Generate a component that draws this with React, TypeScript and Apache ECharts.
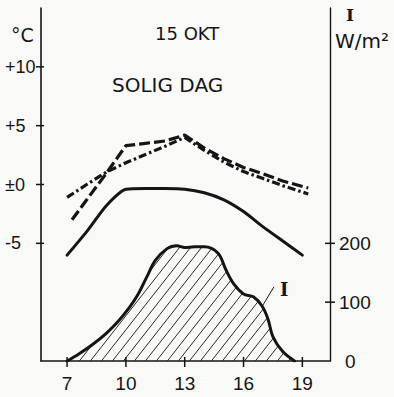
import React, { useEffect, useRef } from 'react';
import * as echarts from 'echarts';

// Axis ticks / labels
const hourTicks = [7, 10, 13, 16, 19];
const tempTicks = [-5, 0, 5, 10];
const tempTickLabels = ['-5', '±0', '+5', '+10'];
const irrTicks = [100, 200];
const irrLabelValues = [0, 100, 200];

// Solid temperature curve
const solidHours = [7, 8, 9, 10, 11, 12, 13, 14, 15, 16, 17, 18, 19];
const solidTemp = [-6.0, -4.0, -1.8, -0.4, -0.35, -0.35, -0.4, -0.7, -1.3, -2.3, -3.6, -4.8, -6.0];

// Long-dash temperature curve
const dashedHours = [7.25, 8, 9, 10, 11, 12, 13, 14, 15, 16, 17, 18, 19.3];
const dashedTemp = [-3.0, -1.3, 0.95, 3.3, 3.5, 3.7, 4.2, 3.1, 2.2, 1.45, 0.9, 0.3, -0.3];

// Dash-dot temperature curve
const dashDotHours = [7, 8, 9, 10, 11, 12, 13, 14, 15, 16, 17, 18, 19.3];
const dashDotTemp = [-1.1, 0.0, 1.05, 1.85, 2.55, 3.25, 4.0, 2.9, 1.9, 1.1, 0.5, -0.1, -0.8];

// Irradiance I (W/m2)
const irrHours = [7, 7.6, 8.3, 9.0, 9.6, 10.2, 10.6, 11.1, 11.5, 12.1, 12.6, 13.0, 13.5, 14.0, 14.7, 15.1, 15.5, 16.0, 16.5, 16.95, 17.25, 17.5, 18.0, 18.6];
const irrValues = [0, 12, 28, 47, 67, 92, 112, 145, 171, 191, 196, 193, 194, 194, 183, 155, 131, 114, 109, 93, 71, 41, 16, 0];

// Leader line and label for "I"
const leaderStart = [16.95, 93];
const leaderEnd = [17.55, 126];
const labelAt = [18.07, 122];

// Axis ranges
const xMin = 5.67;
const xMax = 20.41;
const tempMin = -15;
const tempMax = 15;
const irrMin = 0;
const irrMax = 600;

const zip = (xs: number[], ys: number[]) => xs.map((x, i) => [x, ys[i]]);

const INK = '#151515';
const tickFont = "'Liberation Sans', Arial, sans-serif";
const textFont = "'DejaVu Sans', 'Liberation Sans', sans-serif";
const serifFont = "'DejaVu Serif', 'Liberation Serif', serif";

// Crossing tick marks drawn through the axis scales
const tickSeries = (
  data: number[][], yAxisIndex: number, dir: 'x' | 'y', before: number, after: number,
) => ({
  type: 'custom',
  xAxisIndex: 0,
  yAxisIndex,
  clip: false,
  silent: true,
  z: 5,
  data,
  renderItem: (_params: any, api: any) => {
    const p = api.coord([api.value(0), api.value(1)]);
    const shape = dir === 'x'
      ? { x1: p[0], y1: p[1] - before, x2: p[0], y2: p[1] + after }
      : { x1: p[0] - before, y1: p[1], x2: p[0] + after, y2: p[1] };
    return { type: 'line', shape, style: { stroke: INK, lineWidth: 1.5 } };
  },
});

export default function App() {
  const ref = useRef<HTMLDivElement>(null);

  useEffect(() => {
    if (!ref.current) return;
    const chart = echarts.init(ref.current, undefined, { renderer: 'svg' });

    const c = document.createElement('canvas');
    const W = 11, H = 14;
    c.width = W;
    c.height = H;
    const ctx = c.getContext('2d')!;
    ctx.strokeStyle = '#2a2a2a';
    ctx.lineWidth = 1;
    for (const dx of [-W, 0, W]) {
      ctx.beginPath();
      ctx.moveTo(dx, H);
      ctx.lineTo(dx + W, 0);
      ctx.stroke();
    }

    const option: any = {
      animation: false,
      backgroundColor: '#f9f9f7',
      grid: { left: 41, right: 64, top: 8, bottom: 36, containLabel: false },
      xAxis: [
        {
          type: 'value', min: xMin, max: xMax, position: 'bottom',
          axisLine: { show: true, onZero: false, lineStyle: { color: INK, width: 1.6 } },
          axisTick: { show: false },
          axisLabel: { customValues: hourTicks, color: INK, fontFamily: tickFont, fontSize: 19, margin: 13 },
          splitLine: { show: false },
        },
      ],
      yAxis: [
        {
          type: 'value', min: tempMin, max: tempMax, position: 'left',
          axisLine: { show: true, onZero: false, lineStyle: { color: INK, width: 1.6 } },
          axisTick: { show: false },
          axisLabel: {
            customValues: tempTicks, color: INK, fontFamily: tickFont, fontSize: 18, align: 'left', margin: 36,
            formatter: (v: number) => tempTickLabels[tempTicks.indexOf(v)] ?? '',
          },
          splitLine: { show: false },
        },
        {
          type: 'value', min: irrMin, max: irrMax, position: 'right',
          axisLine: { show: true, onZero: false, lineStyle: { color: INK, width: 1.4 } },
          axisTick: { show: false },
          axisLabel: {
            customValues: irrLabelValues, color: INK, fontFamily: tickFont, fontSize: 19, margin: 9,
            formatter: (v: number) => (v === 0 ? '{z|0}' : String(v)),
            rich: { z: { padding: [0, 0, 0, 6], fontFamily: tickFont, fontSize: 19, color: INK } },
          },
          splitLine: { show: false },
        },
      ],
      series: [
        {
          type: 'line', name: 'solid', xAxisIndex: 0, yAxisIndex: 0,
          data: zip(solidHours, solidTemp), symbol: 'none', smooth: 0.2,
          lineStyle: { color: INK, width: 3, cap: 'round', join: 'round' },
        },
        {
          type: 'line', name: 'dashed', xAxisIndex: 0, yAxisIndex: 0,
          data: zip(dashedHours, dashedTemp), symbol: 'none',
          lineStyle: { color: INK, width: 3.2, type: [11, 4] },
        },
        {
          type: 'line', name: 'dashdot', xAxisIndex: 0, yAxisIndex: 0,
          data: zip(dashDotHours, dashDotTemp), symbol: 'none',
          lineStyle: { color: INK, width: 3.2, type: [8, 3, 2.5, 3] },
        },
        {
          type: 'line', name: 'I', xAxisIndex: 0, yAxisIndex: 1,
          data: zip(irrHours, irrValues), symbol: 'none', smooth: 0.35,
          lineStyle: { color: INK, width: 3, cap: 'round', join: 'round' },
          areaStyle: { color: { image: c, repeat: 'repeat' }, opacity: 1 },
          markLine: {
            silent: true, symbol: ['none', 'none'],
            lineStyle: { color: INK, width: 1, type: 'solid' },
            label: { show: false },
            data: [[{ coord: leaderStart }, { coord: leaderEnd }]],
          },
          markPoint: {
            silent: true,
            symbol: 'rect', symbolSize: 1,
            itemStyle: { color: 'rgba(0,0,0,0)' },
            label: {
              show: true, position: 'inside', formatter: 'I',
              fontFamily: serifFont, fontWeight: 'bold', fontSize: 18, color: INK,
            },
            data: [{ coord: labelAt }],
          },
        },
        tickSeries(hourTicks.map((h) => [h, tempMin]), 0, 'x', 4, 6),
        tickSeries(tempTicks.map((t) => [xMin, t]), 0, 'y', 5, 3),
        tickSeries(irrTicks.map((v) => [xMax, v]), 1, 'y', 5, 5),
      ],
      graphic: [
        { type: 'text', left: 11, top: 25, style: { text: '°C', font: `19px ${textFont}`, fill: INK } },
        { type: 'text', left: 155, top: 24, style: { text: '15 OKT', font: `18px ${textFont}`, fill: INK } },
        { type: 'text', left: 112, top: 75, style: { text: 'SOLIG DAG', font: `20px ${textFont}`, fill: INK } },
        { type: 'text', left: 346, top: 6, style: { text: 'I', font: `bold 17px ${serifFont}`, fill: INK } },
        { type: 'text', left: 335, top: 31, style: { text: 'W/m²', font: `20px ${textFont}`, fill: INK } },
      ],
    };

    chart.setOption(option);
    return () => chart.dispose();
  }, []);

  return (
    <div
      ref={ref}
      style={{ position: 'fixed', left: 0, top: 0, width: 394, height: 397 }}
    />
  );
}
